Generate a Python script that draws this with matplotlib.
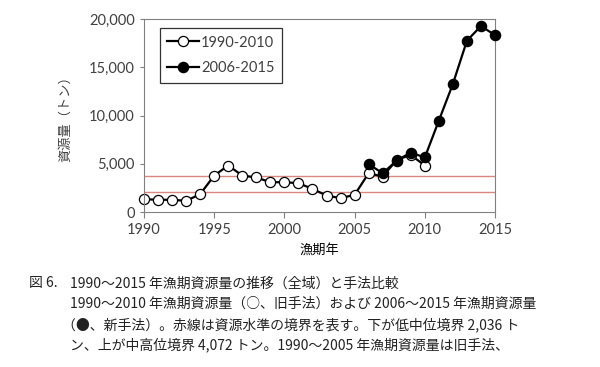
import numpy as np
import matplotlib.pyplot as plt
from matplotlib.ticker import FuncFormatter

plt.rcParams['font.family'] = ['Noto Sans CJK JP', 'DejaVu Sans']

# old method (open circles)
years_old = np.arange(1990, 2011)
biomass_old = [1340, 1280, 1280, 1170, 1860, 3790, 4830, 3790, 3590, 3100,
               3100, 3000, 2410, 1720, 1450, 1790, 4030, 3690, 5400, 5930, 4830]
# new method (filled circles)
years_new = np.arange(2006, 2016)
biomass_new = [4970, 4030, 5340, 6170, 5660, 9480, 13280, 17760, 19280, 18340]
# level borders (red lines)
borders = [2036, 3700]

caption = [
    (0.048, 0.228, "図 6."),
    (0.117, 0.228, "1990～2015 年漁期資源量の推移（全域）と手法比較"),
    (0.117, 0.172, "1990～2010 年漁期資源量（○、旧手法）および 2006～2015 年漁期資源量"),
    (0.104, 0.116, "（●、新手法）。赤線は資源水準の境界を表す。下が低中位境界 2,036 ト"),
    (0.117, 0.060, "ン、上が中高位境界 4,072 トン。1990～2005 年漁期資源量は旧手法、"),
]

fig = plt.figure(figsize=(6, 3.67), dpi=100)
ax = fig.add_axes([0.24, 0.422, 0.585, 0.526])

for b in borders:
    ax.axhline(b, color='#d98880', lw=1.0, zorder=1)

ax.plot(years_old, biomass_old, '-o', color='black', mfc='white', mec='black',
        ms=7.3, lw=1.6, mew=0.9, label='1990-2010', zorder=2, clip_on=False)
ax.plot(years_new, biomass_new, '-o', color='black', mfc='black', mec='black',
        ms=7.3, lw=1.6, label='2006-2015', zorder=3, clip_on=False)

ax.set_xlim(1990, 2015)
ax.set_ylim(0, 20000)
ax.set_xticks(range(1990, 2016, 5))
ax.set_yticks(range(0, 20001, 5000))
ax.yaxis.set_major_formatter(FuncFormatter(lambda v, p: f"{int(v):,}"))
for s in ax.spines.values():
    s.set_color('#808080')
ax.tick_params(colors='#404040', labelsize=10.5, length=4, color='#808080')
ax.tick_params(axis='y', length=3)
for lab in ax.get_xticklabels() + ax.get_yticklabels():
    lab.set_family('Lato')
ax.set_xlabel('漁期年', fontsize=9.5, labelpad=5)
ax.set_ylabel('資源量（トン）', fontsize=9.5, color='#404040', labelpad=12)

leg = ax.legend(loc='upper left', bbox_to_anchor=(0.025, 0.99), fontsize=10.5,
                frameon=True, fancybox=False, edgecolor='black', handlelength=2.2,
                borderpad=0.5, labelspacing=0.8, handletextpad=0.1,
                prop={'family': 'Lato', 'size': 10.5})
leg.get_frame().set_linewidth(0.9)
for t in leg.get_texts():
    t.set_color('#404040')

for x, y, s in caption:
    fig.text(x, y, s, fontsize=10, color='#222222', va='center')

fig.savefig('out.png', dpi=100, facecolor='white')
